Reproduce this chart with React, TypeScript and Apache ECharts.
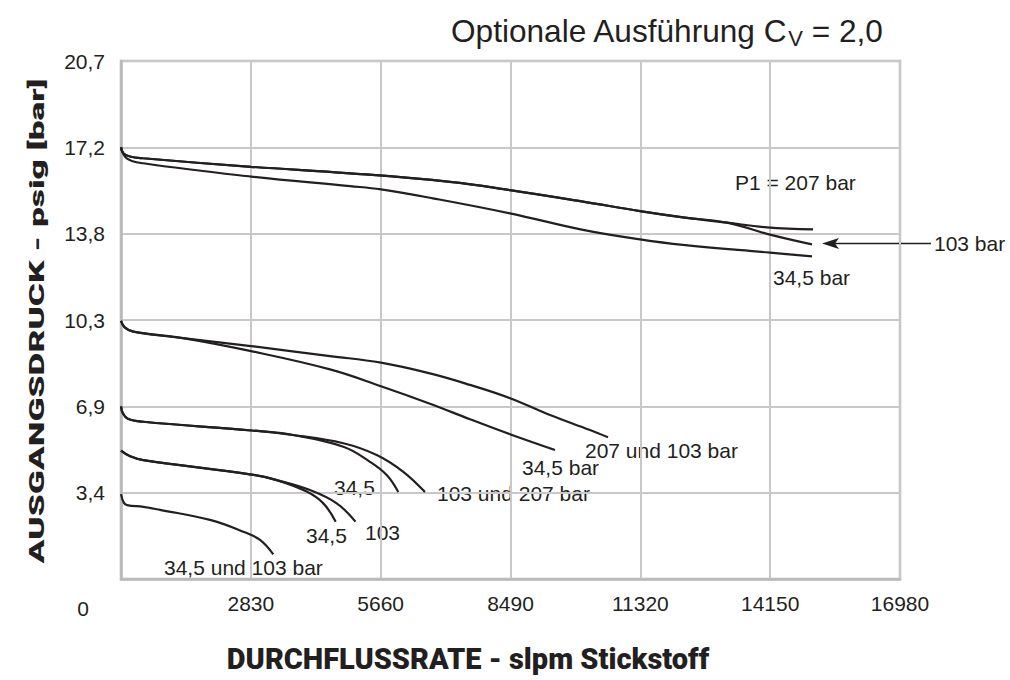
import React, { useEffect, useRef } from "react";
import * as echarts from "echarts";

// ---- axis definitions ----
const X_MAX = 16980;
const X_STEP = 2830;
const Y_STEP = 3.44738; // 50 psig in bar
const Y_MAX = 20.68428; // 300 psig in bar

// ---- curve data [flow slpm, outlet pressure bar] ----
// P1 curves starting at 17.2 bar
const topP207: number[][] = [[0, 17.24], [50, 17.0], [196, 16.87], [480, 16.8], [2834, 16.46], [4992, 16.2], [7171, 15.86], [8479, 15.53], [10070, 15.07], [11313, 14.69], [12250, 14.44], [13209, 14.23], [14081, 14.04], [15084, 13.96]];
const topP103: number[][] = [[0, 17.24], [50, 17.0], [196, 16.87], [480, 16.8], [2834, 16.46], [4992, 16.2], [7171, 15.86], [8479, 15.53], [10070, 15.07], [11313, 14.69], [12250, 14.44], [13209, 14.23], [14146, 13.75], [15062, 13.36]];
const topP34: number[][] = [[0, 17.24], [124, 16.8], [486, 16.6], [2834, 16.07], [4992, 15.69], [5667, 15.56], [6801, 15.2], [8479, 14.6], [10070, 13.94], [11313, 13.56], [12250, 13.34], [14146, 13.03], [15062, 12.88]];

// curves starting at 10.3 bar
const midP207: number[][] = [[0, 10.31], [80, 10.05], [268, 9.88], [1351, 9.62], [2834, 9.3], [4556, 8.9], [5667, 8.64], [6735, 8.21], [7607, 7.75], [8479, 7.22], [9351, 6.55], [10222, 5.95], [10615, 5.66]];
const midP34: number[][] = [[0, 10.31], [80, 10.05], [268, 9.88], [1351, 9.62], [2834, 9.1], [4556, 8.37], [5667, 7.7], [6735, 7.0], [7607, 6.38], [8479, 5.78], [9460, 5.15]];

// curves starting at 6.9 bar
const lowP103: number[][] = [[0, 6.89], [40, 6.62], [150, 6.4], [486, 6.28], [2845, 5.93], [3749, 5.75], [4846, 5.42], [5574, 4.95], [6153, 4.28], [6626, 3.47]];
const lowP34: number[][] = [[0, 6.89], [40, 6.62], [150, 6.4], [486, 6.28], [2845, 5.93], [3749, 5.75], [4846, 5.28], [5427, 4.68], [5792, 4.15], [6044, 3.47]];

// curves starting at 5.2 bar
const l5P103: number[][] = [[0, 5.13], [200, 4.9], [486, 4.75], [2845, 4.17], [3394, 3.95], [4120, 3.55], [4702, 3.02], [5111, 2.29]];
const l5P34: number[][] = [[0, 5.13], [200, 4.9], [486, 4.75], [2845, 4.17], [3394, 3.95], [4048, 3.49], [4410, 3.02], [4680, 2.29]];

// curve starting at 3.4 bar
const l3P34: number[][] = [[0, 3.39], [60, 3.05], [131, 2.95], [486, 2.88], [850, 2.76], [1940, 2.36], [2666, 1.89], [3030, 1.56], [3320, 0.98]];

const CURVES = [topP207, topP103, topP34, midP207, midP34, lowP103, lowP34, l5P103, l5P34, l3P34];

// ---- texts ----
const TITLE_MAIN = "Optionale Ausführung C";
const TITLE_SUB = "V";
const TITLE_END = " = 2,0";
const X_NAME = "DURCHFLUSSRATE - slpm Stickstoff";
const Y_NAME = "AUSGANGSDRUCK - psig [bar]";
const ANNOTATIONS: { text: string; x: number; y: number }[] = [
  { text: "P1 = 207 bar", x: 735, y: 182 },
  { text: "103 bar", x: 934, y: 243 },
  { text: "34,5 bar", x: 773, y: 277 },
  { text: "207 und 103 bar", x: 585, y: 450 },
  { text: "34,5 bar", x: 522, y: 467 },
  { text: "34,5", x: 334, y: 487 },
  { text: "103 und 207 bar", x: 437, y: 493 },
  { text: "34,5", x: 306, y: 535 },
  { text: "103", x: 365, y: 532 },
  { text: "34,5 und 103 bar", x: 164, y: 567 },
];

const INK = "#231f20";
const FONT = "'Liberation Sans', Arial, Helvetica, sans-serif";
const HEAVY = "Roboto, 'Liberation Sans', Arial, sans-serif";

export default function App() {
  const ref = useRef<HTMLDivElement>(null);
  useEffect(() => {
    if (!ref.current) return;
    const chart = echarts.init(ref.current, null, { renderer: "svg" });
    const graphic: any[] = [
      {
        type: "text",
        x: 451,
        y: 31,
        style: {
          text: `{a|${TITLE_MAIN}}{s|${TITLE_SUB}}{a|${TITLE_END}}`,
          rich: {
            a: { fontSize: 31.6, fontFamily: FONT, fill: INK, lineHeight: 36 },
            s: { fontSize: 22, fontFamily: FONT, fill: INK, lineHeight: 22, verticalAlign: "bottom" },
          },
          verticalAlign: "middle",
          align: "left",
        },
      },
      {
        type: "text",
        x: 83,
        y: 608,
        style: { text: "0", fontSize: 21, fontFamily: FONT, fill: INK, align: "center", verticalAlign: "middle" },
      },
      {
        type: "text",
        x: 468,
        y: 659,
        style: { text: X_NAME, fontSize: 29, fontWeight: 900, fontFamily: HEAVY, fill: INK, align: "center", verticalAlign: "middle" },
      },
      {
        type: "text",
        x: 37,
        y: 321,
        rotation: Math.PI / 2,
        scaleX: 1.68,
        style: { text: Y_NAME, fontSize: 21, fontWeight: 900, fontFamily: HEAVY, fill: INK, align: "center", verticalAlign: "middle" },
      },
      ...ANNOTATIONS.map((a) => ({
        type: "text",
        x: a.x,
        y: a.y,
        style: { text: a.text, fontSize: 21, fontFamily: FONT, fill: INK, align: "left", verticalAlign: "middle" },
      })),
      {
        type: "line",
        shape: { x1: 931, y1: 243.5, x2: 832, y2: 243.5 },
        style: { stroke: INK, lineWidth: 1.5 },
      },
      {
        type: "polygon",
        shape: { points: [[822, 243.5], [839, 238], [835, 243.5], [839, 249]] },
        style: { fill: INK },
      },
    ];
    chart.setOption({
      animation: false,
      backgroundColor: "#ffffff",
      grid: { left: 121, right: 110, top: 61, bottom: 101, show: true, borderColor: "#b8b8ba", borderWidth: 2.5 },
      xAxis: {
        type: "value",
        min: 0,
        max: X_MAX,
        interval: X_STEP,
        axisLine: { show: true, lineStyle: { color: "#b8b8ba", width: 2.5 } },
        axisTick: { show: false },
        splitLine: { show: true, lineStyle: { color: "#c8c8ca", width: 2 } },
        axisLabel: {
          fontSize: 21,
          fontFamily: FONT,
          color: INK,
          margin: 14,
          formatter: (v: number) => (v === 0 ? "" : String(v)),
        },
      },
      yAxis: {
        type: "value",
        min: 0,
        max: Y_MAX,
        interval: Y_STEP,
        axisLine: { show: true, lineStyle: { color: "#b8b8ba", width: 2.5 } },
        axisTick: { show: false },
        splitLine: { show: true, lineStyle: { color: "#c8c8ca", width: 2 } },
        axisLabel: {
          fontSize: 21,
          fontFamily: FONT,
          color: INK,
          margin: 16,
          formatter: (v: number) => (v === 0 ? "" : v.toFixed(1).replace(".", ",")),
        },
      },
      series: CURVES.map((d) => ({
        type: "line",
        data: d,
        showSymbol: false,
        smooth: 0.4,
        lineStyle: { color: INK, width: 2.2 },
        silent: true,
      })),
      graphic,
    });
    return () => chart.dispose();
  }, []);
  return (
    <div
      ref={ref}
      style={{ position: "fixed", left: 0, top: 0, width: 1010, height: 680, background: "#fff" }}
    />
  );
}
